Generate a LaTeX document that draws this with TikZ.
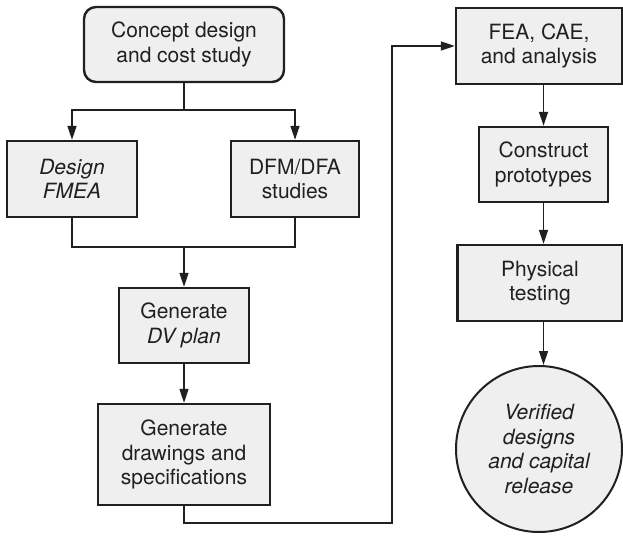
\documentclass[tikz,border=0pt]{standalone}
\usepackage{fontspec}
\setmainfont{TeX Gyre Heros}
\usetikzlibrary{arrows.meta}
\definecolor{boxfill}{HTML}{EFEFEF}
\definecolor{ink}{HTML}{231F20}
\tikzset{
  stepbox/.style={draw=ink, fill=boxfill, line width=2.4pt, inner sep=0pt,
    align=center, text=ink, font=\fontsize{21}{24.5}\selectfont},
  roundbox/.style={stepbox, rounded corners=12pt},
  endcircle/.style={stepbox, circle, line width=2pt},
  link/.style={draw=ink, line width=1.2pt},
  flow/.style={link, -{Triangle[length=14pt,width=9pt]}},
}
\begin{document}
\begin{tikzpicture}[x=1pt,y=-1pt]
\useasboundingbox (0,0) rectangle (623,535);

% left column
\node[roundbox, minimum width=200pt, minimum height=75pt] (concept) at (184,44.5)
  {Concept design\\and cost study};
\node[stepbox, minimum width=130pt, minimum height=76pt] (fmea) at (72,179)
  {\itshape Design\\\itshape FMEA};
\node[stepbox, minimum width=128pt, minimum height=76pt] (dfm) at (295,179)
  {DFM/DFA\\studies};
\node[stepbox, minimum width=130pt, minimum height=75pt] (dv) at (184,325.5)
  {Generate\\\itshape DV plan};
\node[stepbox, minimum width=172pt, minimum height=101pt] (drw) at (184,454.5)
  {Generate\\drawings and\\specifications};

% right column
\node[stepbox, minimum width=166pt, minimum height=76pt] (fea) at (539,46)
  {FEA, CAE,\\and analysis};
\node[stepbox, minimum width=129pt, minimum height=75pt] (cons) at (543.5,164.5)
  {Construct\\prototypes};
\node[stepbox, minimum width=165pt, minimum height=76pt] (phys) at (540,283)
  {Physical\\testing};
\node[endcircle, minimum size=166pt] (done) at (539,449)
  {\itshape Verified\\\itshape designs\\\itshape and capital\\\itshape release};

% split below the concept study
\coordinate (split) at (184,110);
\draw[link] (concept.south) -- (split);
\draw[flow] (split) -| (fmea.north);
\draw[flow] (split) -| (dfm.north);

% merge into the DV plan
\coordinate (merge) at (184,247);
\draw[link] (fmea.south) |- (merge);
\draw[link] (dfm.south) |- (merge);
\draw[flow] (merge) -- (dv.north);
\draw[flow] (dv.south) -- (drw.north);

% hand-over to the analysis column
\coordinate (low) at (184,523);
\coordinate (up) at (392,523);
\draw[flow] (drw.south) -- (low) -- (up) |- (fea.west);

\draw[flow] (fea.south -| cons.north) -- (cons.north);
\draw[flow] (cons.south) -- (cons.south |- phys.north);
\draw[flow] (phys.south -| cons.south) -- (cons.south |- done.north);
\end{tikzpicture}
\end{document}
